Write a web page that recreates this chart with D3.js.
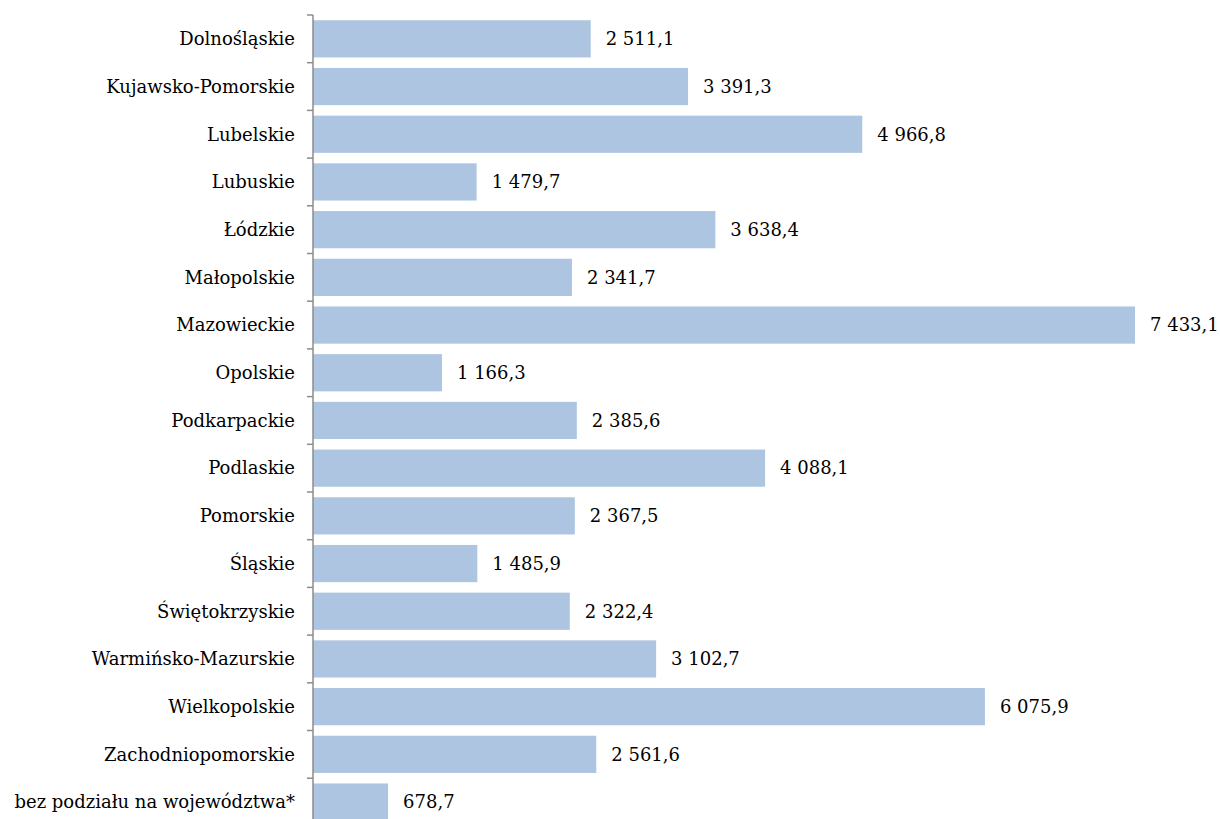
<!DOCTYPE html>
<html><head><meta charset="utf-8">
<script src="https://cdn.jsdelivr.net/npm/d3@7"></script>
<style>body{margin:0;background:#fff;} svg{display:block;}</style>
</head><body>
<svg id="chart" width="1220" height="819"></svg>
<script>
const categories = ["Dolnośląskie","Kujawsko-Pomorskie","Lubelskie","Lubuskie","Łódzkie","Małopolskie","Mazowieckie","Opolskie","Podkarpackie","Podlaskie","Pomorskie","Śląskie","Świętokrzyskie","Warmińsko-Mazurskie","Wielkopolskie","Zachodniopomorskie","bez podziału na województwa*"];
const values = [2511.1,3391.3,4966.8,1479.7,3638.4,2341.7,7433.1,1166.3,2385.6,4088.1,2367.5,1485.9,2322.4,3102.7,6075.9,2561.6,678.7];

const svg = d3.select("#chart");
const axisX = 313;
const x = d3.scaleLinear().domain([0, 7433.1]).range([axisX, 1135]);
const y = d3.scaleBand().domain(categories).range([15, 15 + 47.7*17]).paddingInner(0.22).paddingOuter(0.11);
const font = "'DejaVu Serif', serif";
const fs = 18;
const fmt = v => { const s = v.toFixed(1).replace(".", ","); const [i,d] = s.split(","); return i.replace(/\B(?=(\d{3})+(?!\d))/g, " ") + "," + d; };

svg.selectAll("rect.bar").data(categories).join("rect")
  .attr("class","bar")
  .attr("x", axisX)
  .attr("y", d => y(d))
  .attr("width", (d,i) => x(values[i]) - axisX)
  .attr("height", y.bandwidth())
  .attr("fill", "#adc5e0");

svg.selectAll("text.val").data(categories).join("text")
  .attr("class","val")
  .attr("x", (d,i) => x(values[i]) + 15)
  .attr("y", d => y(d) + y.bandwidth()/2)
  .attr("dy","0.35em")
  .attr("font-family", font).attr("font-size", fs).attr("fill","#000")
  .text((d,i) => fmt(values[i]));

const step = y.step();
const ticks = d3.range(categories.length + 1).map(i => 15 + i*step);
const g = svg.append("g");
g.append("line").attr("x1", axisX).attr("x2", axisX).attr("y1", 15).attr("y2", 15 + step*17)
  .attr("stroke", "#8c8c8c").attr("stroke-width", 1.5);
g.selectAll("line.tick").data(ticks).join("line").attr("class","tick")
  .attr("x1", axisX - 6).attr("x2", axisX).attr("y1", d => d).attr("y2", d => d)
  .attr("stroke", "#8c8c8c").attr("stroke-width", 1.5);
g.selectAll("text.cat").data(categories).join("text").attr("class","cat")
  .attr("x", 295).attr("y", d => y(d) + y.bandwidth()/2).attr("dy","0.35em")
  .attr("text-anchor","end")
  .attr("font-family", font).attr("font-size", fs).attr("fill","#000")
  .text(d => d);
</script>
</body></html>
